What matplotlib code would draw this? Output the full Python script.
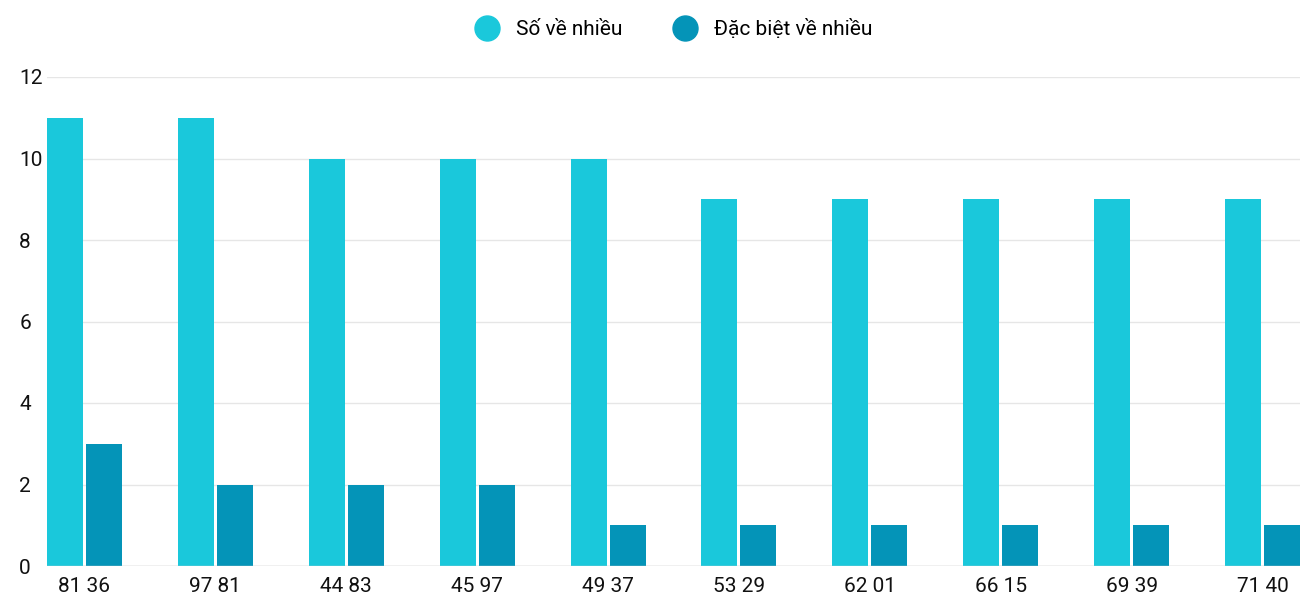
import matplotlib
matplotlib.use("Agg")
import matplotlib.pyplot as plt
from matplotlib.lines import Line2D
import numpy as np

plt.rcParams['font.family'] = ['Roboto', 'DejaVu Sans']

categories = ["81 36", "97 81", "44 83", "45 97", "49 37", "53 29", "62 01", "66 15", "69 39", "71 40"]
so_ve_nhieu = [11, 11, 10, 10, 10, 9, 9, 9, 9, 9]
dac_biet = [3, 2, 2, 2, 1, 1, 1, 1, 1, 1]
series_names = ["Số về nhiều", "Đặc biệt về nhiều"]
colors = ["#1AC8DB", "#0494B8"]

fig = plt.figure(figsize=(13, 6), dpi=100)
ax = fig.add_axes([47/1300, 1-566/600, 1253/1300, (566-77)/600])
x = np.arange(len(categories))
w = 0.275
off = 0.149
ax.bar(x - off, so_ve_nhieu, w, color=colors[0], zorder=3)
ax.bar(x + off, dac_biet, w, color=colors[1], zorder=3)
ax.set_xlim(-0.2865, 9.2865)
ax.set_ylim(0, 12)
ax.set_yticks(range(0, 13, 2))
ax.set_xticks(x)
ax.set_xticklabels(categories)
ax.tick_params(axis='both', length=0, labelsize=15, colors='#111111')
ax.tick_params(axis='y', pad=20)
ax.tick_params(axis='x', pad=8)
for lbl in ax.get_yticklabels():
    lbl.set_horizontalalignment('left')
ax.grid(axis='y', color='#e6e6e6', linewidth=1, zorder=0)
for s in ax.spines.values():
    s.set_visible(False)
ax.axhline(0, color='#cccccc', linewidth=1, zorder=4)

handles = [Line2D([], [], marker='o', linestyle='', markersize=18, color=c) for c in colors]
fig.legend(handles, series_names, loc='center', bbox_to_anchor=(0.515, 1-29/600), ncol=2,
           frameon=False, fontsize=15, handletextpad=0.4, columnspacing=2.0)
fig.savefig("out.png", dpi=100)
